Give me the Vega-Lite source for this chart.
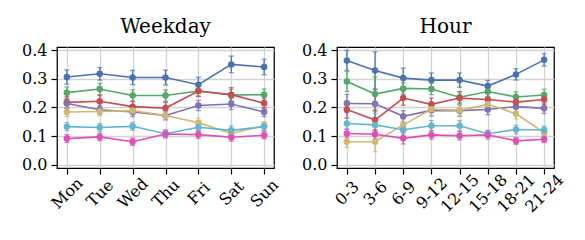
{
  "$schema": "https://vega.github.io/schema/vega-lite/v6.json",
  "background": "white",
  "padding": {"left": 20, "top": 16, "right": 5, "bottom": 0},
  "spacing": 63,
  "bounds": "flush",
  "config": {
    "font": "DejaVu Serif",
    "view": {"stroke": "black", "strokeWidth": 1.25},
    "axis": {
      "domain": false,
      "ticks": true,
      "tickColor": "black",
      "tickSize": 6,
      "tickWidth": 1.2,
      "labelFont": "DejaVu Serif",
      "labelFontSize": 16,
      "labelColor": "black",
      "labelPadding": 4,
      "grid": true,
      "gridColor": "#d3d3d3",
      "gridWidth": 1.3,
      "title": null,
      "labelOverlap": false,
      "labelFlush": false
    },
    "axisY": {"values": [0, 0.1, 0.2, 0.3, 0.4], "format": ".1f", "labelOverlap": false},
    "title": {"font": "DejaVu Serif", "fontSize": 20, "fontWeight": "normal", "color": "black", "offset": 5}
  },
  "datasets": {
    "w": [
      {"x":"Mon","s":"a","v":0.307,"lo":0.282,"hi":0.332},
      {"x":"Tue","s":"a","v":0.318,"lo":0.296,"hi":0.340},
      {"x":"Wed","s":"a","v":0.305,"lo":0.280,"hi":0.330},
      {"x":"Thu","s":"a","v":0.305,"lo":0.279,"hi":0.331},
      {"x":"Fri","s":"a","v":0.280,"lo":0.254,"hi":0.306},
      {"x":"Sat","s":"a","v":0.351,"lo":0.322,"hi":0.380},
      {"x":"Sun","s":"a","v":0.342,"lo":0.315,"hi":0.369},
      {"x":"Mon","s":"b","v":0.252,"lo":0.232,"hi":0.272},
      {"x":"Tue","s":"b","v":0.265,"lo":0.245,"hi":0.285},
      {"x":"Wed","s":"b","v":0.242,"lo":0.222,"hi":0.262},
      {"x":"Thu","s":"b","v":0.242,"lo":0.222,"hi":0.262},
      {"x":"Fri","s":"b","v":0.258,"lo":0.240,"hi":0.276},
      {"x":"Sat","s":"b","v":0.244,"lo":0.224,"hi":0.264},
      {"x":"Sun","s":"b","v":0.245,"lo":0.225,"hi":0.265},
      {"x":"Mon","s":"c","v":0.218,"lo":0.198,"hi":0.238},
      {"x":"Tue","s":"c","v":0.222,"lo":0.202,"hi":0.242},
      {"x":"Wed","s":"c","v":0.203,"lo":0.185,"hi":0.221},
      {"x":"Thu","s":"c","v":0.198,"lo":0.178,"hi":0.218},
      {"x":"Fri","s":"c","v":0.258,"lo":0.238,"hi":0.278},
      {"x":"Sat","s":"c","v":0.245,"lo":0.220,"hi":0.270},
      {"x":"Sun","s":"c","v":0.215,"lo":0.197,"hi":0.233},
      {"x":"Mon","s":"d","v":0.214,"lo":0.199,"hi":0.229},
      {"x":"Tue","s":"d","v":0.192,"lo":0.177,"hi":0.207},
      {"x":"Wed","s":"d","v":0.184,"lo":0.168,"hi":0.200},
      {"x":"Thu","s":"d","v":0.172,"lo":0.157,"hi":0.187},
      {"x":"Fri","s":"d","v":0.207,"lo":0.189,"hi":0.225},
      {"x":"Sat","s":"d","v":0.212,"lo":0.192,"hi":0.232},
      {"x":"Sun","s":"d","v":0.184,"lo":0.168,"hi":0.200},
      {"x":"Mon","s":"e","v":0.184,"lo":0.169,"hi":0.199},
      {"x":"Tue","s":"e","v":0.186,"lo":0.171,"hi":0.201},
      {"x":"Wed","s":"e","v":0.189,"lo":0.175,"hi":0.203},
      {"x":"Thu","s":"e","v":0.172,"lo":0.156,"hi":0.188},
      {"x":"Fri","s":"e","v":0.147,"lo":0.131,"hi":0.163},
      {"x":"Sat","s":"e","v":0.109,"lo":0.097,"hi":0.121},
      {"x":"Sun","s":"e","v":0.136,"lo":0.122,"hi":0.150},
      {"x":"Mon","s":"f","v":0.133,"lo":0.119,"hi":0.147},
      {"x":"Tue","s":"f","v":0.130,"lo":0.116,"hi":0.144},
      {"x":"Wed","s":"f","v":0.134,"lo":0.120,"hi":0.148},
      {"x":"Thu","s":"f","v":0.108,"lo":0.096,"hi":0.120},
      {"x":"Fri","s":"f","v":0.131,"lo":0.117,"hi":0.145},
      {"x":"Sat","s":"f","v":0.120,"lo":0.104,"hi":0.136},
      {"x":"Sun","s":"f","v":0.133,"lo":0.119,"hi":0.147},
      {"x":"Mon","s":"g","v":0.091,"lo":0.077,"hi":0.105},
      {"x":"Tue","s":"g","v":0.097,"lo":0.084,"hi":0.110},
      {"x":"Wed","s":"g","v":0.080,"lo":0.067,"hi":0.093},
      {"x":"Thu","s":"g","v":0.107,"lo":0.093,"hi":0.121},
      {"x":"Fri","s":"g","v":0.105,"lo":0.092,"hi":0.118},
      {"x":"Sat","s":"g","v":0.096,"lo":0.082,"hi":0.110},
      {"x":"Sun","s":"g","v":0.103,"lo":0.090,"hi":0.116}
    ],
    "h": [
      {"x":"0-3","s":"a","v":0.365,"lo":0.330,"hi":0.400},
      {"x":"3-6","s":"a","v":0.330,"lo":0.265,"hi":0.395},
      {"x":"6-9","s":"a","v":0.303,"lo":0.268,"hi":0.338},
      {"x":"9-12","s":"a","v":0.296,"lo":0.271,"hi":0.321},
      {"x":"12-15","s":"a","v":0.296,"lo":0.271,"hi":0.321},
      {"x":"15-18","s":"a","v":0.275,"lo":0.255,"hi":0.295},
      {"x":"18-21","s":"a","v":0.316,"lo":0.296,"hi":0.336},
      {"x":"21-24","s":"a","v":0.367,"lo":0.345,"hi":0.389},
      {"x":"0-3","s":"b","v":0.291,"lo":0.256,"hi":0.326},
      {"x":"3-6","s":"b","v":0.247,"lo":0.187,"hi":0.307},
      {"x":"6-9","s":"b","v":0.267,"lo":0.247,"hi":0.287},
      {"x":"9-12","s":"b","v":0.265,"lo":0.245,"hi":0.285},
      {"x":"12-15","s":"b","v":0.236,"lo":0.216,"hi":0.256},
      {"x":"15-18","s":"b","v":0.256,"lo":0.238,"hi":0.274},
      {"x":"18-21","s":"b","v":0.237,"lo":0.219,"hi":0.255},
      {"x":"21-24","s":"b","v":0.244,"lo":0.224,"hi":0.264},
      {"x":"0-3","s":"d","v":0.214,"lo":0.182,"hi":0.246},
      {"x":"3-6","s":"d","v":0.213,"lo":0.163,"hi":0.263},
      {"x":"6-9","s":"d","v":0.169,"lo":0.149,"hi":0.189},
      {"x":"9-12","s":"d","v":0.190,"lo":0.170,"hi":0.210},
      {"x":"12-15","s":"d","v":0.189,"lo":0.169,"hi":0.209},
      {"x":"15-18","s":"d","v":0.193,"lo":0.175,"hi":0.211},
      {"x":"18-21","s":"d","v":0.203,"lo":0.185,"hi":0.221},
      {"x":"21-24","s":"d","v":0.197,"lo":0.179,"hi":0.215},
      {"x":"0-3","s":"c","v":0.193,"lo":0.163,"hi":0.223},
      {"x":"3-6","s":"c","v":0.156,"lo":0.121,"hi":0.191},
      {"x":"6-9","s":"c","v":0.233,"lo":0.208,"hi":0.258},
      {"x":"9-12","s":"c","v":0.211,"lo":0.189,"hi":0.233},
      {"x":"12-15","s":"c","v":0.233,"lo":0.211,"hi":0.255},
      {"x":"15-18","s":"c","v":0.228,"lo":0.208,"hi":0.248},
      {"x":"18-21","s":"c","v":0.219,"lo":0.201,"hi":0.237},
      {"x":"21-24","s":"c","v":0.228,"lo":0.210,"hi":0.246},
      {"x":"0-3","s":"e","v":0.080,"lo":0.060,"hi":0.100},
      {"x":"3-6","s":"e","v":0.080,"lo":0.045,"hi":0.115},
      {"x":"6-9","s":"e","v":0.139,"lo":0.119,"hi":0.159},
      {"x":"9-12","s":"e","v":0.194,"lo":0.174,"hi":0.214},
      {"x":"12-15","s":"e","v":0.190,"lo":0.170,"hi":0.210},
      {"x":"15-18","s":"e","v":0.211,"lo":0.191,"hi":0.231},
      {"x":"18-21","s":"e","v":0.178,"lo":0.160,"hi":0.196},
      {"x":"21-24","s":"e","v":0.112,"lo":0.097,"hi":0.127},
      {"x":"0-3","s":"f","v":0.144,"lo":0.124,"hi":0.164},
      {"x":"3-6","s":"f","v":0.139,"lo":0.099,"hi":0.179},
      {"x":"6-9","s":"f","v":0.122,"lo":0.104,"hi":0.140},
      {"x":"9-12","s":"f","v":0.136,"lo":0.118,"hi":0.154},
      {"x":"12-15","s":"f","v":0.136,"lo":0.118,"hi":0.154},
      {"x":"15-18","s":"f","v":0.108,"lo":0.096,"hi":0.120},
      {"x":"18-21","s":"f","v":0.123,"lo":0.108,"hi":0.138},
      {"x":"21-24","s":"f","v":0.121,"lo":0.107,"hi":0.135},
      {"x":"0-3","s":"g","v":0.109,"lo":0.094,"hi":0.124},
      {"x":"3-6","s":"g","v":0.106,"lo":0.091,"hi":0.121},
      {"x":"6-9","s":"g","v":0.092,"lo":0.072,"hi":0.112},
      {"x":"9-12","s":"g","v":0.104,"lo":0.089,"hi":0.119},
      {"x":"12-15","s":"g","v":0.101,"lo":0.086,"hi":0.116},
      {"x":"15-18","s":"g","v":0.104,"lo":0.089,"hi":0.119},
      {"x":"18-21","s":"g","v":0.083,"lo":0.071,"hi":0.095},
      {"x":"21-24","s":"g","v":0.089,"lo":0.077,"hi":0.101}
    ]
  },
  "hconcat": [
    {
      "title": "Weekday",
      "width": 217,
      "height": 121,
      "data": {"name": "w"},
      "encoding": {
        "x": {"field": "x", "type": "ordinal", "sort": ["Mon","Tue","Wed","Thu","Fri","Sat","Sun"],
              "scale": {"type": "point", "padding": 0.3},
              "axis": {"labelAngle": -45, "labelAlign": "center", "labelBaseline": "middle", "labelPadding": 19}},
        "color": {"field": "s", "type": "nominal", "legend": null,
                  "scale": {"domain": ["a","b","c","d","e","f","g"], "range": ["#4c72b0","#55a868","#c44e52","#8172b2","#ccb974","#64b5cd","#dd50b5"]}}
      },
      "layer": [
        {"mark": {"type": "rule", "strokeWidth": 1.3},
         "encoding": {"y": {"field": "lo", "type": "quantitative", "scale": {"domain": [-0.012, 0.412], "nice": false, "zero": false}}, "y2": {"field": "hi"}}},
        {"mark": {"type": "tick", "size": 5, "thickness": 1.3, "orient": "horizontal"},
         "encoding": {"y": {"field": "lo", "type": "quantitative"}}},
        {"mark": {"type": "tick", "size": 5, "thickness": 1.3, "orient": "horizontal"},
         "encoding": {"y": {"field": "hi", "type": "quantitative"}}},
        {"mark": {"type": "line", "strokeWidth": 1.6},
         "encoding": {"y": {"field": "v", "type": "quantitative"}}},
        {"mark": {"type": "circle", "size": 42, "opacity": 1},
         "encoding": {"y": {"field": "v", "type": "quantitative"}}}
      ]
    },
    {
      "title": "Hour",
      "width": 217,
      "height": 121,
      "data": {"name": "h"},
      "encoding": {
        "x": {"field": "x", "type": "ordinal", "sort": ["0-3","3-6","6-9","9-12","12-15","15-18","18-21","21-24"],
              "scale": {"type": "point", "padding": 0.35},
              "axis": {"labelAngle": -45, "labelAlign": "center", "labelBaseline": "middle", "labelPadding": 19}},
        "color": {"field": "s", "type": "nominal", "legend": null,
                  "scale": {"domain": ["a","b","c","d","e","f","g"], "range": ["#4c72b0","#55a868","#c44e52","#8172b2","#ccb974","#64b5cd","#dd50b5"]}}
      },
      "layer": [
        {"mark": {"type": "rule", "strokeWidth": 1.3},
         "encoding": {"y": {"field": "lo", "type": "quantitative", "scale": {"domain": [-0.012, 0.412], "nice": false, "zero": false}}, "y2": {"field": "hi"}}},
        {"mark": {"type": "tick", "size": 5, "thickness": 1.3, "orient": "horizontal"},
         "encoding": {"y": {"field": "lo", "type": "quantitative"}}},
        {"mark": {"type": "tick", "size": 5, "thickness": 1.3, "orient": "horizontal"},
         "encoding": {"y": {"field": "hi", "type": "quantitative"}}},
        {"mark": {"type": "line", "strokeWidth": 1.6},
         "encoding": {"y": {"field": "v", "type": "quantitative"}}},
        {"mark": {"type": "circle", "size": 42, "opacity": 1},
         "encoding": {"y": {"field": "v", "type": "quantitative"}}}
      ]
    }
  ]
}
